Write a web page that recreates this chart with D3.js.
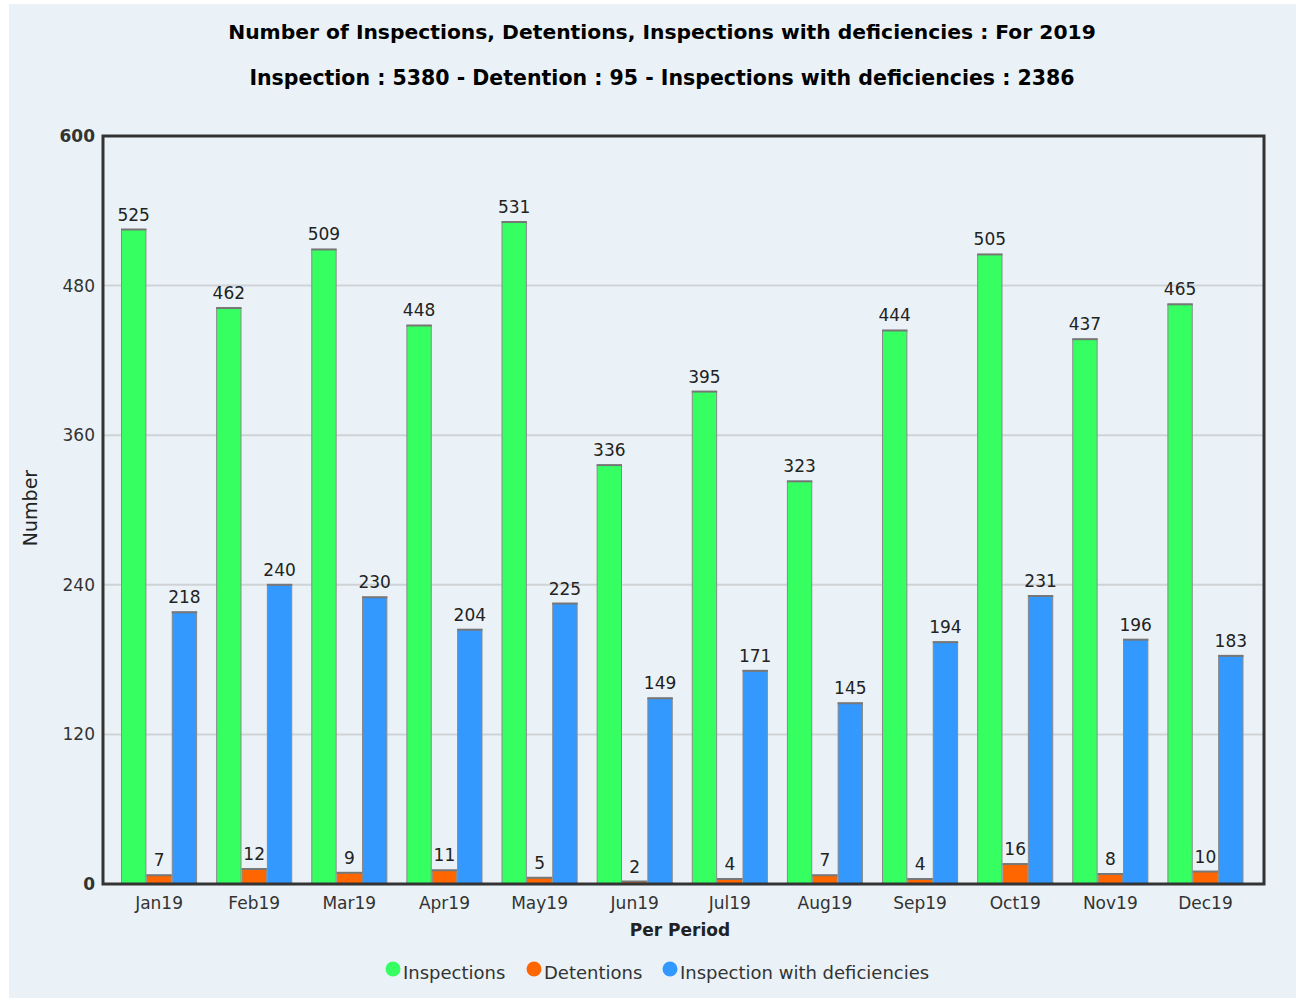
<!DOCTYPE html>
<html>
<head>
<meta charset="utf-8">
<script src="https://cdn.jsdelivr.net/npm/d3@7"></script>
<style>
html,body{margin:0;padding:0;background:#fff;}
svg{display:block;}
</style>
</head>
<body>
<svg id="chart" width="1296" height="1001"></svg>
<script>
const categories = ["Jan19","Feb19","Mar19","Apr19","May19","Jun19","Jul19","Aug19","Sep19","Oct19","Nov19","Dec19"];
const inspections = [525,462,509,448,531,336,395,323,444,505,437,465];
const detentions = [7,12,9,11,5,2,4,7,4,16,8,10];
const deficiencies = [218,240,230,204,225,149,171,145,194,231,196,183];
const seriesNames = ["Inspections","Detentions","Inspection with deficiencies"];
const seriesColors = ["#36ff62","#ff6600","#3399ff"];
const yTicks = [0,120,240,360,480,600];
const titleText = "Number of Inspections, Detentions, Inspections with deficiencies : For 2019";
const subtitleText = "Inspection : 5380 - Detention : 95 - Inspections with deficiencies : 2386";

const series = [inspections, detentions, deficiencies];
const svg = d3.select("#chart");
const font = "'DejaVu Sans', Verdana, sans-serif";

svg.append("rect").attr("x",9).attr("y",4).attr("width",1287).attr("height",994).attr("fill","#eaf2f7");

const plot = {left:103, right:1264, top:136, bottom:884};

const y = d3.scaleLinear().domain([0,600]).range([plot.bottom, plot.top]);
const x0 = d3.scaleBand().domain(categories).range([111.5,1253]).paddingInner(0.2).paddingOuter(0.1);
const x1 = d3.scaleBand().domain(d3.range(3)).range([0, x0.bandwidth()]);

// gridlines
svg.append("g").selectAll("line").data(yTicks.filter(t=>t>0 && t<600)).join("line")
  .attr("x1",plot.left).attr("x2",plot.right)
  .attr("y1",d=>y(d)).attr("y2",d=>y(d))
  .attr("stroke","#cfd3d6").attr("stroke-width",2);

// y axis labels
const yAxis = d3.axisLeft(y).tickValues(yTicks).tickSize(0).tickPadding(8).tickFormat(d3.format("d"));
const gy = svg.append("g").attr("transform",`translate(${plot.left},0)`).call(yAxis);
gy.select(".domain").remove();
gy.selectAll("text").attr("font-family",font).attr("font-size",17).attr("fill","#333")
  .attr("font-weight",d=>(d===0||d===600)?"bold":"normal");

// x axis labels
const xAxis = d3.axisBottom(x0).tickSize(0).tickPadding(13);
const gx = svg.append("g").attr("transform",`translate(0,${plot.bottom})`).call(xAxis);
gx.select(".domain").remove();
gx.selectAll("text").attr("font-family",font).attr("font-size",17).attr("fill","#333");

// bars
const groups = svg.append("g").selectAll("g").data(categories).join("g")
  .attr("transform",d=>`translate(${x0(d)},0)`);
groups.each(function(cat,i){
  const g = d3.select(this);
  series.forEach((s,k)=>{
    const v = s[i];
    g.append("rect")
      .attr("x",x1(k)+0.5).attr("y",y(v))
      .attr("width",x1.bandwidth()-1).attr("height",plot.bottom-y(v))
      .attr("fill",seriesColors[k]).attr("stroke","#8a8a8a").attr("stroke-width",1);
    g.append("line")
      .attr("x1",x1(k)).attr("x2",x1(k)+x1.bandwidth())
      .attr("y1",y(v)).attr("y2",y(v))
      .attr("stroke","#777").attr("stroke-width",2);
    g.append("text")
      .attr("x",x1(k)+x1.bandwidth()/2).attr("y",y(v)-9)
      .attr("text-anchor","middle").attr("font-family",font).attr("font-size",17)
      .attr("fill","#222").text(v);
  });
});

// plot frame
svg.append("rect").attr("x",plot.left).attr("y",plot.top)
  .attr("width",plot.right-plot.left).attr("height",plot.bottom-plot.top)
  .attr("fill","none").attr("stroke","#333").attr("stroke-width",3);

// titles
svg.append("text").attr("x",662).attr("y",39).attr("text-anchor","middle")
  .attr("font-family",font).attr("font-weight","bold").attr("font-size",20.3).attr("fill","#000").text(titleText);
svg.append("text").attr("x",662).attr("y",85).attr("text-anchor","middle")
  .attr("font-family",font).attr("font-weight","bold").attr("font-size",20.5).attr("fill","#000").text(subtitleText);

// axis titles
svg.append("text").attr("x",680).attr("y",936).attr("text-anchor","middle")
  .attr("font-family",font).attr("font-weight","bold").attr("font-size",17).attr("fill","#222").text("Per Period");
svg.append("text").attr("transform","translate(37,508) rotate(-90)").attr("text-anchor","middle")
  .attr("font-family",font).attr("font-size",19).attr("fill","#222").text("Number");

// legend
const legendX = [393, 534, 670];
const lg = svg.append("g").selectAll("g").data(seriesNames).join("g")
  .attr("transform",(d,i)=>`translate(${legendX[i]},0)`);
lg.append("circle").attr("cx",0).attr("cy",969).attr("r",7.5).attr("fill",(d,i)=>seriesColors[i]);
lg.append("text").attr("x",10).attr("y",979).attr("font-family",font).attr("font-size",18)
  .attr("fill","#333").text(d=>d);
</script>
</body>
</html>
